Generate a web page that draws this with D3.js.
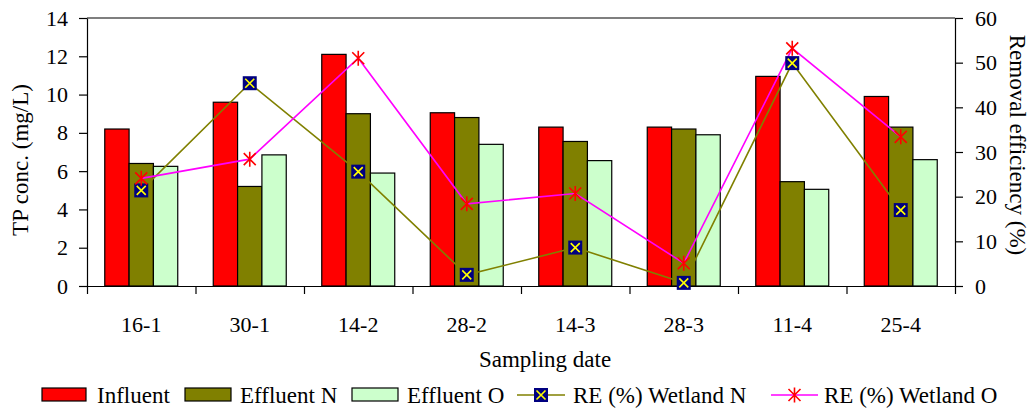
<!DOCTYPE html>
<html>
<head>
<meta charset="utf-8">
<script src="https://cdn.jsdelivr.net/npm/d3@7"></script>
<style>
  html, body { margin: 0; padding: 0; background: #fff; }
  svg { display: block; }
  svg text { font-family: 'Liberation Serif', 'DejaVu Serif', serif !important; fill: #000; }
</style>
</head>
<body>
<svg id="chart" width="1030" height="409"></svg>
<script>
// ---- data ----
const categories = ["16-1", "30-1", "14-2", "28-2", "14-3", "28-3", "11-4", "25-4"];
const influent   = [8.2, 9.6, 12.1, 9.05, 8.3, 8.3, 10.95, 9.9];
const effluentN  = [6.4, 5.2, 9.0, 8.8, 7.55, 8.2, 5.45, 8.3];
const effluentO  = [6.25, 6.85, 5.9, 7.4, 6.55, 7.9, 5.05, 6.6];
const reWetlandN = [21.4, 45.4, 25.6, 2.5, 8.6, 0.7, 49.9, 17.0];
const reWetlandO = [24.1, 28.4, 51.0, 18.4, 20.7, 5.1, 53.2, 33.4];
const leftTicks  = [0, 2, 4, 6, 8, 10, 12, 14];
const rightTicks = [0, 10, 20, 30, 40, 50, 60];
const barSeries  = ["Influent", "Effluent N", "Effluent O"];
const barValues  = [influent, effluentN, effluentO];

// ---- layout / style ----
const W = 1030, H = 409;
const L = 87, R = 955, T = 18, B = 286;
const barColors = ["#FF0000", "#808000", "#CCFFCC"];
const colN = "#808000", colO = "#FF00FF";
const FONT = "'Liberation Serif', 'DejaVu Serif', serif";

const svg = d3.select("#chart");
svg.append("rect").attr("width", W).attr("height", H).attr("fill", "#fff");

const x = d3.scaleBand().domain(categories).range([L, R]).padding(0);
const xi = d3.scaleBand().domain(barSeries).range([0, x.bandwidth()]).paddingInner(0).paddingOuter(0.73);
const yL = d3.scaleLinear().domain([0, 14]).range([B, T]);
const yR = d3.scaleLinear().domain([0, 60]).range([B, T]);

// bars
barSeries.forEach((s, si) => {
  svg.append("g").selectAll("rect")
    .data(categories.map((c, i) => ({ c, v: barValues[si][i] })))
    .join("rect")
    .attr("x", d => x(d.c) + xi(s))
    .attr("y", d => yL(d.v))
    .attr("width", xi.bandwidth())
    .attr("height", d => yL(0) - yL(d.v))
    .attr("fill", barColors[si])
    .attr("stroke", "#000")
    .attr("stroke-width", 1.2);
});

// frame top line
svg.append("line").attr("x1", L).attr("x2", R).attr("y1", T).attr("y2", T)
  .attr("stroke", "#000").attr("stroke-width", 1.2);

// axes
const fontTick = 22;
const axL = svg.append("g").attr("transform", `translate(${L},0)`)
  .call(d3.axisLeft(yL).tickValues(leftTicks).tickSize(8).tickPadding(11).tickSizeOuter(0));
const axR = svg.append("g").attr("transform", `translate(${R},0)`)
  .call(d3.axisRight(yR).tickValues(rightTicks).tickSize(8).tickPadding(12).tickSizeOuter(0));
const xb = d3.scaleLinear().domain([0, categories.length]).range([L, R]);
const axB = svg.append("g").attr("transform", `translate(0,${B})`)
  .call(d3.axisBottom(xb).tickValues(d3.range(0, categories.length + 1)).tickFormat("").tickSize(8).tickSizeOuter(0));
const axLab = svg.append("g").attr("transform", `translate(0,${B})`)
  .call(d3.axisBottom(x).tickSize(0).tickPadding(30));
axLab.select(".domain").remove();

[axL, axR, axB, axLab].forEach(g => g.attr("font-family", FONT).attr("font-size", fontTick));
[axL, axR, axB].forEach(g => {
  g.selectAll("path, line").attr("stroke", "#000").attr("stroke-width", 1.2);
});
[axL, axR, axLab].forEach(g => {
  g.selectAll("text").attr("font-family", FONT).attr("font-size", fontTick).attr("fill", "#000");
});

// lines
const lineN = d3.line().x((d, i) => x(categories[i]) + x.bandwidth() / 2).y(d => yR(d));
svg.append("path").datum(reWetlandN).attr("d", lineN)
  .attr("fill", "none").attr("stroke", colN).attr("stroke-width", 1.6);
svg.append("path").datum(reWetlandO).attr("d", lineN)
  .attr("fill", "none").attr("stroke", colO).attr("stroke-width", 1.6);

function squareX(g, cx, cy) {
  g.append("rect").attr("x", cx - 7).attr("y", cy - 7).attr("width", 14).attr("height", 14).attr("fill", "#000080");
  g.append("path").attr("d", `M${cx - 4.5},${cy - 4.5}L${cx + 4.5},${cy + 4.5}M${cx - 4.5},${cy + 4.5}L${cx + 4.5},${cy - 4.5}`)
    .attr("stroke", "#FFFF00").attr("stroke-width", 1.6);
}
function star(g, cx, cy) {
  g.append("path").attr("d",
    `M${cx - 6},${cy - 6}L${cx + 6},${cy + 6}M${cx - 6},${cy + 6}L${cx + 6},${cy - 6}M${cx},${cy - 7.5}L${cx},${cy + 7.5}`)
    .attr("stroke", "#FF0000").attr("stroke-width", 1.6);
}
const mN = svg.append("g");
reWetlandN.forEach((v, i) => squareX(mN, x(categories[i]) + x.bandwidth() / 2, yR(v)));
const mO = svg.append("g");
reWetlandO.forEach((v, i) => star(mO, x(categories[i]) + x.bandwidth() / 2, yR(v)));

// axis titles
const fontTitle = 23;
function title(sel) { return sel.attr("font-family", FONT).attr("font-size", fontTitle).attr("fill", "#000"); }
title(svg.append("text").attr("transform", "translate(28,160) rotate(-90)")
  .attr("text-anchor", "middle").text("TP conc. (mg/L)"));
title(svg.append("text").attr("transform", "translate(1010,145) rotate(90)")
  .attr("text-anchor", "middle").text("Removal efficiency (%)"));
title(svg.append("text").attr("x", 545).attr("y", 367)
  .attr("text-anchor", "middle").text("Sampling date"));

// legend
const leg = svg.append("g");
const legendItems = [
  { type: "bar", label: "Influent",   sx: 42,  sw: 44, tx: 97,  color: barColors[0] },
  { type: "bar", label: "Effluent N", sx: 185, sw: 46, tx: 240, color: barColors[1] },
  { type: "bar", label: "Effluent O", sx: 352, sw: 46, tx: 407, color: barColors[2] },
  { type: "N",   label: "RE (%) Wetland N", sx: 517, sw: 48, tx: 573 },
  { type: "O",   label: "RE (%) Wetland O", sx: 771, sw: 47, tx: 824 }
];
const ly = 395;
legendItems.forEach(it => {
  if (it.type === "bar") {
    leg.append("rect").attr("x", it.sx).attr("y", ly - 7).attr("width", it.sw).attr("height", 13)
      .attr("fill", it.color).attr("stroke", "#000").attr("stroke-width", 1.2);
  } else if (it.type === "N") {
    leg.append("line").attr("x1", it.sx).attr("x2", it.sx + it.sw).attr("y1", ly).attr("y2", ly)
      .attr("stroke", colN).attr("stroke-width", 1.6);
    squareX(leg, it.sx + it.sw / 2, ly);
  } else {
    leg.append("line").attr("x1", it.sx).attr("x2", it.sx + it.sw).attr("y1", ly).attr("y2", ly)
      .attr("stroke", colO).attr("stroke-width", 1.6);
    star(leg, it.sx + it.sw / 2, ly);
  }
  title(leg.append("text").attr("x", it.tx).attr("y", 403).text(it.label));
});
</script>
</body>
</html>
